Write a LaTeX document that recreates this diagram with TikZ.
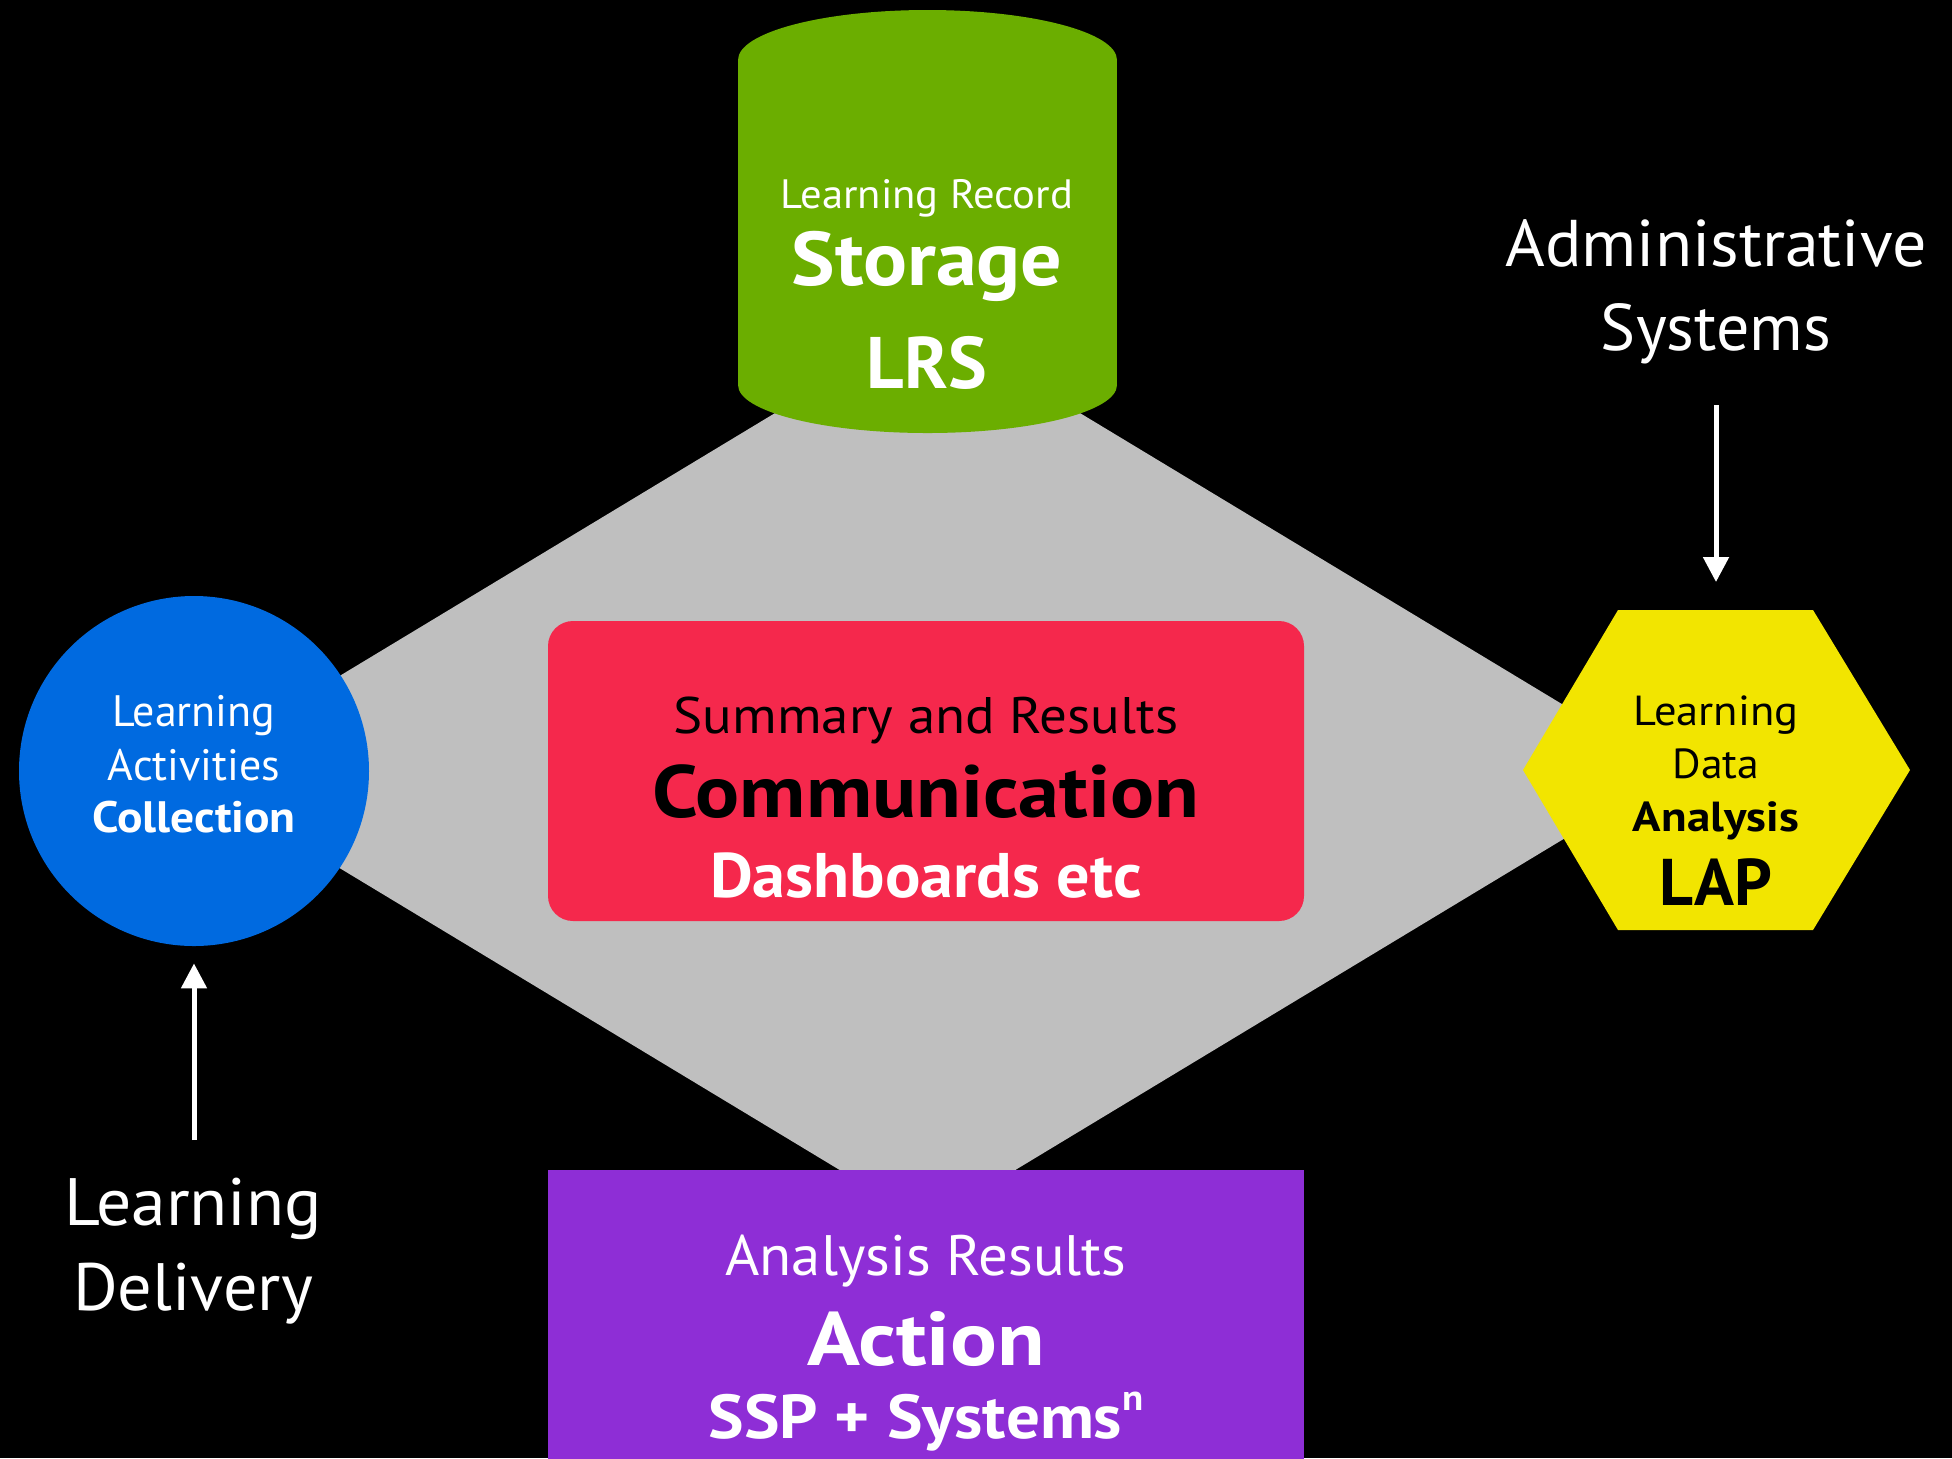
\documentclass[tikz,border=0pt]{standalone}
\usepackage{graphicx}
\usepackage{fontspec}
\setmainfont{PT Sans}
\usetikzlibrary{arrows.meta}
\definecolor{bgblack}{HTML}{000000}
\definecolor{diagray}{HTML}{BFBFBF}
\definecolor{lrsgreen}{HTML}{6BAE00}
\definecolor{colblue}{HTML}{006AE0}
\definecolor{lapyellow}{HTML}{F2E500}
\definecolor{commred}{HTML}{F5284C}
\definecolor{actpurple}{HTML}{8E2ED6}
\newcommand\fsz[1]{\fontsize{#1}{#1}\selectfont}
\newcommand\hsc[2]{\scalebox{#1}[1]{#2}}
\tikzset{
  txt/.style={anchor=base, inner sep=0pt, text=white},
  dtxt/.style={anchor=base, inner sep=0pt, text=black},
  arr/.style={-{Triangle[width=12.5pt,length=12.5pt]}, line width=2.5pt, draw=white},
}
\begin{document}
\begin{tikzpicture}[x=0.5pt,y=-0.5pt]
\fill[bgblack] (0,0) rectangle (1952,1458);
\useasboundingbox (0,0) rectangle (1952,1458);
% grey diamond
\fill[diagray] (927.5,321) -- (1674.5,772) -- (927.5,1223) -- (180.5,772) -- cycle;
% cylinder (storage)
\fill[lrsgreen] (738,60) rectangle (1117,385);
\fill[lrsgreen] (927.5,60) ellipse [x radius=189.5, y radius=50];
\fill[lrsgreen] (927.5,385) ellipse [x radius=189.5, y radius=48];
% circle (collection)
\node[circle, fill=colblue, minimum size=175pt, inner sep=0pt] (coll) at (194,771) {};
% hexagon (analysis)
\fill[lapyellow] (1523,770) -- (1618,610) -- (1813,610) -- (1910,770) -- (1813,930) -- (1618,930) -- cycle;
\coordinate (hexN) at (1716,610);
% communication box
\node[rectangle, rounded corners=12.5pt, fill=commred, minimum width=378pt, minimum height=150pt, inner sep=0pt] (comm) at (926,771) {};
% action box
\node[rectangle, fill=actpurple, minimum width=378pt, minimum height=150pt, inner sep=0pt, anchor=north] (act) at (926,1170) {};

% storage texts
\node[txt] (lrs1) at (927,208) {\fsz{20.5pt}\hsc{1.04}{Learning Record}};
\node[txt] (lrs2) at (927,285) {\fsz{38pt}\bfseries\hsc{1.08}{Storage}};
\node[txt] (lrs3) at (927,388) {\fsz{36.5pt}\bfseries LRS};
% collection texts
\node[txt] (col1) at (194,726) {\fsz{22pt}Learning};
\node[txt] (col2) at (194,780) {\fsz{22pt}Activities};
\node[txt] (col3) at (194,832) {\fsz{22pt}\bfseries\hsc{1.08}{Collection}};
% analysis texts
\node[dtxt] (lap1) at (1716,725) {\fsz{21pt}\hsc{1.06}{Learning}};
\node[dtxt] (lap2) at (1716,778) {\fsz{21pt}\hsc{1.04}{Data}};
\node[dtxt] (lap3) at (1716,831) {\fsz{21pt}\bfseries\hsc{1.12}{Analysis}};
\node[dtxt] (lap4) at (1716,905) {\fsz{33pt}\bfseries LAP};
% communication texts
\node[dtxt] (com1) at (926,733) {\fsz{25.7pt}\hsc{1.07}{Summary and Results}};
\node[dtxt] (com2) at (926,817) {\fsz{37pt}\bfseries\hsc{1.11}{Communication}};
\node[txt] (com3) at (926,897) {\fsz{31.5pt}\bfseries\hsc{1.05}{Dashboards etc}};
% action texts
\node[txt] (act1) at (926,1275) {\fsz{28.5pt}\hsc{1.03}{Analysis Results}};
\node[txt] (act2) at (926,1365) {\fsz{38pt}\bfseries\hsc{1.15}{Action}};
\node[txt] (act3) at (926,1438) {\fsz{31pt}\bfseries\hsc{1.08}{SSP + Systems\raisebox{0.45em}{\fsz{18pt}n}}};
% outside labels
\node[txt] (adm1) at (1716,266) {\fsz{33pt}\hsc{1.03}{Administrative}};
\node[txt] (adm2) at (1716,350) {\fsz{33pt}Systems};
\node[txt] (del1) at (193,1225) {\fsz{33.5pt}\hsc{1.04}{Learning}};
\node[txt] (del2) at (193,1310) {\fsz{33.5pt}\hsc{1.02}{Delivery}};
% arrows
\coordinate (admStart) at (1716,405);
\coordinate (delStart) at (194,1140);
\draw[arr, shorten >=14pt] (admStart) -- (hexN);
\draw[arr, shorten >=8.5pt] (delStart) -- (coll.south);
\end{tikzpicture}
\end{document}
